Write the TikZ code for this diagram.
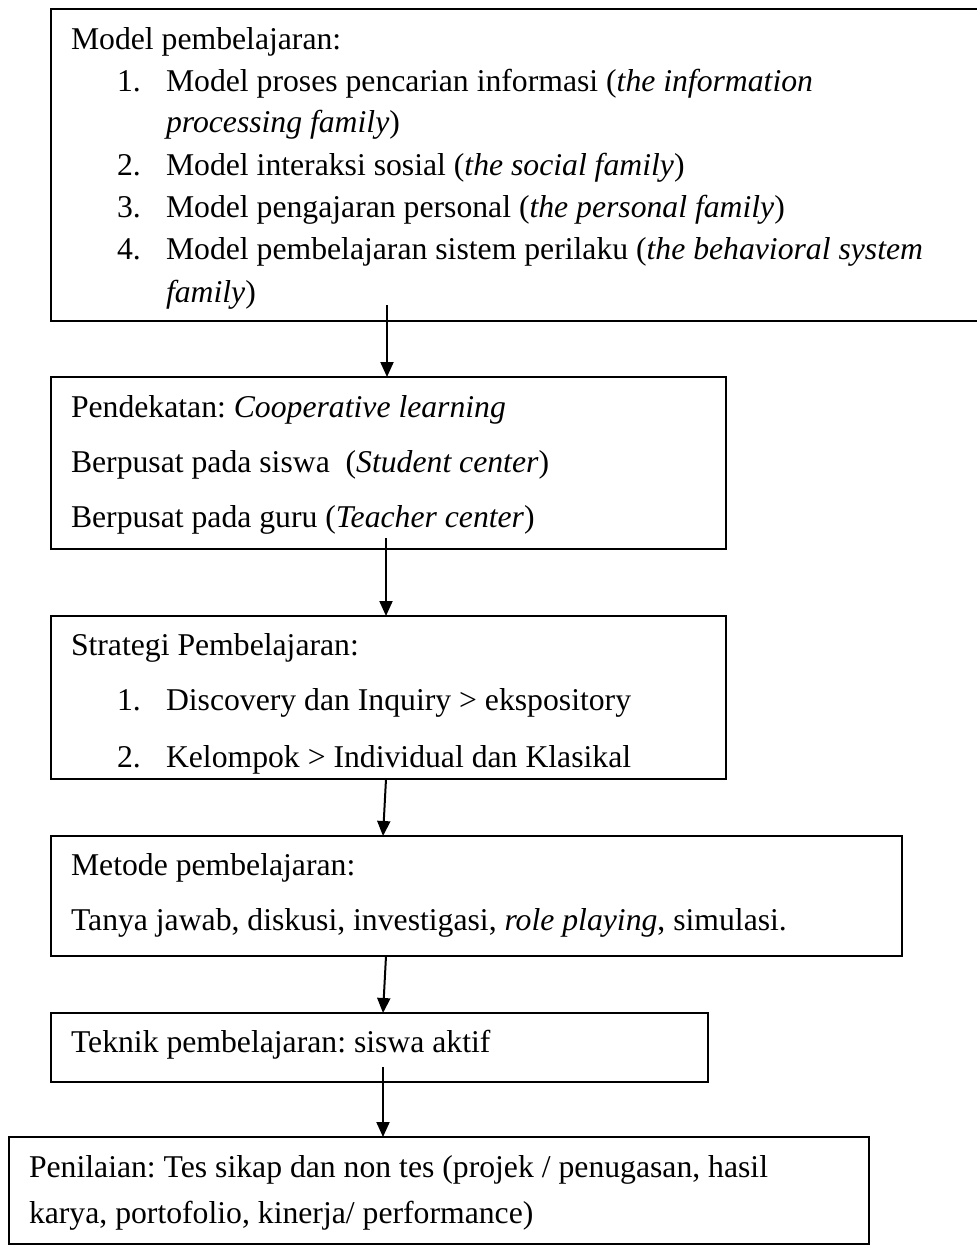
\documentclass[tikz,border=0pt]{standalone}
\usepackage{fontspec}
\setmainfont{Liberation Serif}
\usetikzlibrary{arrows.meta}
\begin{document}
\frenchspacing
\begin{tikzpicture}[x=1pt,y=-1pt,
  box/.style={draw,line width=2pt,inner sep=0pt,outer sep=0pt,anchor=north west},
  txt/.style={anchor=base west,inner sep=0pt,outer sep=0pt,font=\fontsize{31.7}{38}\selectfont},
  arr/.style={line width=2pt,-{Triangle[length=15pt,width=13pt]}}]
\useasboundingbox (0,0) rectangle (977,1245);
\clip (0,0) rectangle (977,1245);
% boxes
\node[box,minimum width=950pt,minimum height=312pt] (b1) at (51,9) {};
\node[box,minimum width=675pt,minimum height=172pt] (b2) at (51,377) {};
\node[box,minimum width=675pt,minimum height=163pt] (b3) at (51,616) {};
\node[box,minimum width=851pt,minimum height=120pt] (b4) at (51,836) {};
\node[box,minimum width=657pt,minimum height=69pt] (b5) at (51,1013) {};
\node[box,minimum width=860pt,minimum height=106.5pt] (b6) at (9,1137) {};
% box 1 text
\node[txt] (t1a) at (71,49) {Model pembelajaran:};
\node[txt] (n11) at (117,91) {1.};
\node[txt] (t11) at (166,91) {Model proses pencarian informasi (\textit{the information}};
\node[txt] (t11b) at (166,132) {\textit{processing family})};
\node[txt] (n12) at (117,175) {2.};
\node[txt] (t12) at (166,175) {Model interaksi sosial (\textit{the social family})};
\node[txt] (n13) at (117,217) {3.};
\node[txt] (t13) at (166,217) {Model pengajaran personal (\textit{the personal family})};
\node[txt] (n14) at (117,259) {4.};
\node[txt] (t14) at (166,259) {Model pembelajaran sistem perilaku (\textit{the behavioral system}};
\node[txt] (t14b) at (166,302) {\textit{family})};
% box 2 text
\node[txt] (t2a) at (71,417) {Pendekatan: \textit{Cooperative learning}};
\node[txt] (t2b) at (71,472) {Berpusat pada siswa\ \ (\textit{Student center})};
\node[txt] (t2c) at (71,527) {Berpusat pada guru (\textit{Teacher center})};
% box 3 text
\node[txt] (t3a) at (71,655) {Strategi Pembelajaran:};
\node[txt] (n31) at (117,710) {1.};
\node[txt] (t31) at (166,710) {Discovery dan Inquiry > ekspository};
\node[txt] (n32) at (117,767) {2.};
\node[txt] (t32) at (166,767) {Kelompok > Individual dan Klasikal};
% box 4 text
\node[txt] (t4a) at (71,875) {Metode pembelajaran:};
\node[txt] (t4b) at (71,930) {Tanya jawab, diskusi, investigasi, \textit{role playing}, simulasi.};
% box 5 text
\node[txt] (t5a) at (71,1052) {Teknik pembelajaran: siswa aktif};
% box 6 text
\node[txt] (t6a) at (29,1177) {Penilaian: Tes sikap dan non tes (projek / penugasan, hasil};
\node[txt] (t6b) at (29,1223) {karya, portofolio, kinerja/ performance)};
% arrows
\draw[arr] ([shift={(336,-16)}]b1.south west) -- ([xshift=336pt]b2.north west);
\draw[arr] ([shift={(335,-11)}]b2.south west) -- ([xshift=335pt]b3.north west);
\draw[arr] ([xshift=335pt]b3.south west) -- ([xshift=332pt]b4.north west);
\draw[arr] ([xshift=335pt]b4.south west) -- ([xshift=332pt]b5.north west);
\draw[arr] ([shift={(332,-15)}]b5.south west) -- ([xshift=374pt]b6.north west);
\end{tikzpicture}
\end{document}
